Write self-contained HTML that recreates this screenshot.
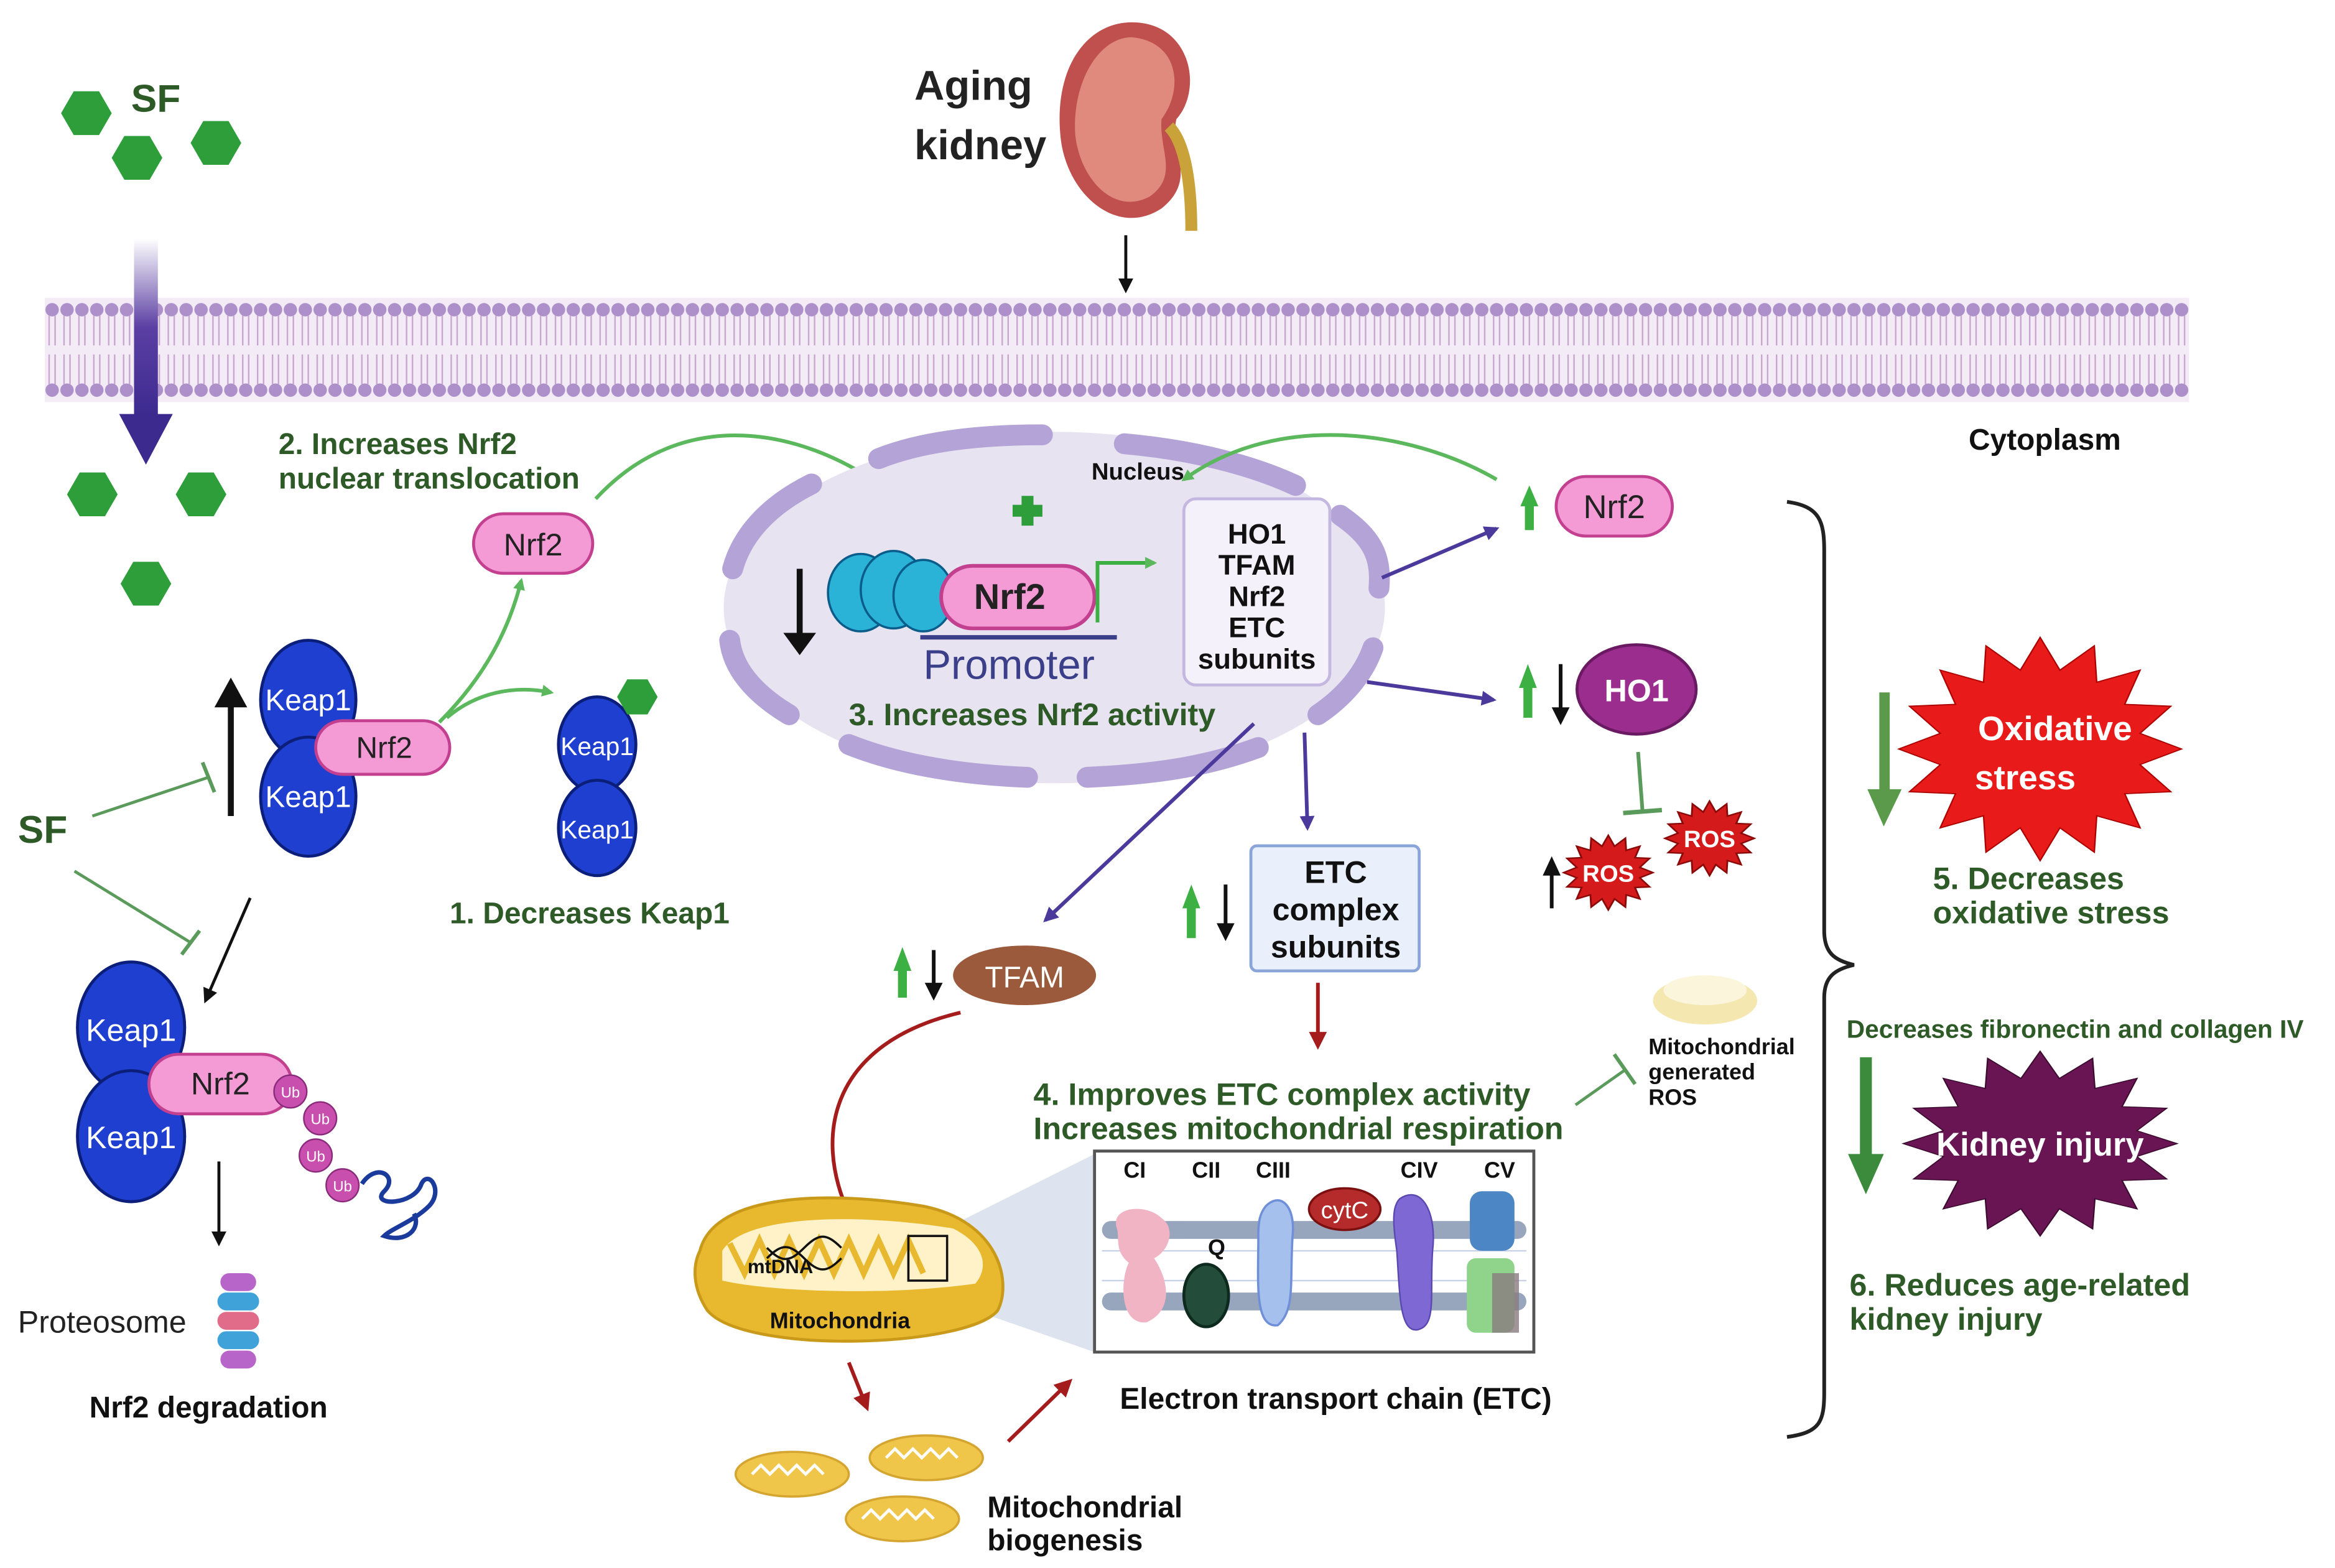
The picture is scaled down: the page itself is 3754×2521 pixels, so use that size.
<!DOCTYPE html>
<html><head><meta charset="utf-8"><style>
html,body{margin:0;padding:0;background:#fff}
svg{display:block}
text{font-family:"Liberation Sans",sans-serif}
</style></head><body>
<svg width="3754" height="2521" viewBox="0 0 1568 1053" xmlns="http://www.w3.org/2000/svg">
<defs>
<pattern id="mem" width="10" height="70" patternUnits="userSpaceOnUse" x="30" y="200">
<rect width="10" height="70" fill="#f3ecf6"/>
<path d="M3,12 L3,32 M7,12 L7,32 M3,38 L3,58 M7,38 L7,58" stroke="#c9a6cf" stroke-width="1"/>
<circle cx="5" cy="8" r="4.5" fill="#ad8fc9"/>
<circle cx="5" cy="62" r="4.5" fill="#ad8fc9"/>
</pattern>
<linearGradient id="parr" x1="0" y1="0" x2="0" y2="1"><stop offset="0" stop-color="#fff"/><stop offset="0.5" stop-color="#5b3fa3"/><stop offset="1" stop-color="#3c2a8f"/></linearGradient>
<polygon id="star" points="1,0 .706,.140 .924,.383 .598,.400 .707,.707 .400,.598 .383,.924 .140,.706 0,1 -.140,.706 -.383,.924 -.400,.598 -.707,.707 -.598,.400 -.924,.383 -.706,.140 -1,0 -.706,-.140 -.924,-.383 -.598,-.400 -.707,-.707 -.400,-.598 -.383,-.924 -.140,-.706 0,-1 .140,-.706 .383,-.924 .400,-.598 .707,-.707 .598,-.400 .924,-.383 .706,-.140"/>
<polygon id="hex" points="17,0 8.5,14.7 -8.5,14.7 -17,0 -8.5,-14.7 8.5,-14.7" fill="#2e9e3a"/>
<marker id="ag" markerWidth="8" markerHeight="8" refX="6" refY="4" orient="auto" markerUnits="userSpaceOnUse"><path d="M0,0 L8,4 L0,8 z" fill="#5cb85c"/></marker>
<marker id="ap" markerWidth="10" markerHeight="10" refX="8" refY="5" orient="auto" markerUnits="userSpaceOnUse"><path d="M0,0 L10,5 L0,10 z" fill="#4b3a9c"/></marker>
<marker id="ak" markerWidth="10" markerHeight="10" refX="8" refY="5" orient="auto" markerUnits="userSpaceOnUse"><path d="M0,0 L10,5 L0,10 z" fill="#111"/></marker>
<marker id="ar" markerWidth="12" markerHeight="12" refX="9" refY="6" orient="auto" markerUnits="userSpaceOnUse"><path d="M0,0 L12,6 L0,12 z" fill="#a51c1c"/></marker>
</defs>
<rect width="1568" height="1053" fill="#fff"/>

<!-- membrane -->
<rect x="30" y="200" width="1440" height="70" fill="url(#mem)"/>

<!-- SF top -->
<use href="#hex" transform="translate(58,76)"/>
<use href="#hex" transform="translate(92,106)"/>
<use href="#hex" transform="translate(145,96)"/>
<text x="88" y="75" font-size="26" font-weight="bold" fill="#2d5a27">SF</text>
<rect x="90" y="160" width="16" height="120" fill="url(#parr)"/>
<polygon points="80,278 116,278 98,312" fill="#3c2a8f"/>
<use href="#hex" transform="translate(62,332)"/>
<use href="#hex" transform="translate(135,332)"/>
<use href="#hex" transform="translate(98,392)"/>

<!-- kidney -->
<text x="614" y="67" font-size="28" font-weight="bold" fill="#222">Aging</text>
<text x="614" y="107" font-size="28" font-weight="bold" fill="#222">kidney</text>
<path d="M760,15 C800,15 808,60 790,80 C785,100 805,120 780,140 C750,160 715,130 712,90 C708,45 730,15 760,15 z" fill="#c0504d"/>
<path d="M760,25 C792,28 795,60 780,80 C778,100 792,118 772,132 C748,145 725,120 722,90 C720,55 738,25 760,25 z" fill="#e08a7e"/>
<path d="M785,85 C795,95 800,120 800,155" stroke="#c9a23a" stroke-width="8" fill="none"/>
<line x1="756" y1="158" x2="756" y2="195" stroke="#111" stroke-width="2" marker-end="url(#ak)"/>

<text x="1322" y="302" font-size="20" font-weight="bold" fill="#111">Cytoplasm</text>

<!-- step 2 -->
<text x="187" y="305" font-size="20" font-weight="bold" fill="#2d5a27">2. Increases Nrf2</text>
<text x="187" y="328" font-size="20" font-weight="bold" fill="#2d5a27">nuclear translocation</text>
<path d="M400,335 C460,270 540,290 590,325" stroke="#5cb85c" stroke-width="2.5" fill="none" marker-end="url(#ag)"/>
<rect x="318" y="345" width="80" height="40" rx="20" fill="#f49bd6" stroke="#c2408f" stroke-width="2"/>
<text x="358" y="373" font-size="21" text-anchor="middle" fill="#222">Nrf2</text>

<!-- Keap1 complex upper -->
<line x1="155" y1="548" x2="155" y2="470" stroke="#111" stroke-width="4"/>
<polygon points="144,475 166,475 155,455" fill="#111"/>
<ellipse cx="207" cy="470" rx="32" ry="40" fill="#1e3fcf" stroke="#0b1f7a" stroke-width="2"/>
<ellipse cx="207" cy="535" rx="32" ry="40" fill="#1e3fcf" stroke="#0b1f7a" stroke-width="2"/>
<text x="207" y="477" font-size="20" text-anchor="middle" fill="#fff">Keap1</text>
<text x="207" y="542" font-size="20" text-anchor="middle" fill="#fff">Keap1</text>
<rect x="212" y="484" width="90" height="36" rx="18" fill="#f49bd6" stroke="#c2408f" stroke-width="2"/>
<text x="258" y="509" font-size="20" text-anchor="middle" fill="#222">Nrf2</text>
<path d="M295,485 C320,460 340,430 350,390" stroke="#5cb85c" stroke-width="2.5" fill="none" marker-end="url(#ag)"/>
<path d="M300,482 C320,465 345,460 370,465" stroke="#5cb85c" stroke-width="2.5" fill="none" marker-end="url(#ag)"/>
<ellipse cx="401" cy="500" rx="26" ry="32" fill="#1e3fcf" stroke="#0b1f7a" stroke-width="2"/>
<ellipse cx="401" cy="556" rx="26" ry="32" fill="#1e3fcf" stroke="#0b1f7a" stroke-width="2"/>
<text x="401" y="507" font-size="17" text-anchor="middle" fill="#fff">Keap1</text>
<text x="401" y="563" font-size="17" text-anchor="middle" fill="#fff">Keap1</text>
<use href="#hex" transform="translate(428,468) scale(0.8)"/>
<text x="302" y="620" font-size="20" font-weight="bold" fill="#2d5a27">1. Decreases  Keap1</text>

<!-- SF left -->
<text x="12" y="566" font-size="26" font-weight="bold" fill="#2d5a27">SF</text>
<line x1="62" y1="548" x2="140" y2="522" stroke="#5a9a5a" stroke-width="2"/>
<line x1="136" y1="512" x2="144" y2="532" stroke="#5a9a5a" stroke-width="2.5"/>
<line x1="50" y1="585" x2="128" y2="633" stroke="#5a9a5a" stroke-width="2"/>
<line x1="122" y1="641" x2="134" y2="625" stroke="#5a9a5a" stroke-width="2.5"/>
<line x1="168" y1="603" x2="138" y2="672" stroke="#111" stroke-width="2" marker-end="url(#ak)"/>

<!-- lower keap -->
<ellipse cx="88" cy="690" rx="36" ry="44" fill="#1e3fcf" stroke="#0b1f7a" stroke-width="2"/>
<ellipse cx="88" cy="763" rx="36" ry="44" fill="#1e3fcf" stroke="#0b1f7a" stroke-width="2"/>
<text x="88" y="699" font-size="21" text-anchor="middle" fill="#fff">Keap1</text>
<text x="88" y="771" font-size="21" text-anchor="middle" fill="#fff">Keap1</text>
<rect x="100" y="708" width="96" height="40" rx="20" fill="#f49bd6" stroke="#c2408f" stroke-width="2"/>
<text x="148" y="735" font-size="21" text-anchor="middle" fill="#222">Nrf2</text>
<g fill="#c94fae" stroke="#8a2a7a" stroke-width="1">
<circle cx="195" cy="733" r="11"/><circle cx="215" cy="751" r="11"/><circle cx="212" cy="776" r="11"/><circle cx="230" cy="796" r="11"/></g>
<g font-size="10" fill="#fff" text-anchor="middle"><text x="195" y="737">Ub</text><text x="215" y="755">Ub</text><text x="212" y="780">Ub</text><text x="230" y="800">Ub</text></g>
<path d="M243,795 c10,-15 25,-5 15,5 c-10,10 20,10 25,-5 c5,-10 15,5 5,15 c-10,10 -25,15 -30,20 c15,5 25,-5 20,-15" stroke="#1a3a9c" stroke-width="3" fill="none"/>
<line x1="147" y1="780" x2="147" y2="835" stroke="#111" stroke-width="2" marker-end="url(#ak)"/>
<text x="12" y="895" font-size="21" fill="#222">Proteosome</text>
<g><rect x="148" y="855" width="24" height="12" rx="6" fill="#b865c9"/><rect x="146" y="868" width="28" height="12" rx="6" fill="#3fa3d9"/><rect x="146" y="881" width="28" height="12" rx="6" fill="#e06c8a"/><rect x="146" y="894" width="28" height="12" rx="6" fill="#3fa3d9"/><rect x="148" y="907" width="24" height="12" rx="6" fill="#b865c9"/></g>
<text x="60" y="952" font-size="20" font-weight="bold" fill="#111">Nrf2 degradation</text>

<!-- nucleus -->
<ellipse cx="708" cy="408" rx="222" ry="118" fill="#e7e3f0"/>
<g stroke="#b3a3d7" stroke-width="14" fill="none" stroke-linecap="round">
<path d="M590,308 C620,296 660,292 700,292"/>
<path d="M755,298 C800,302 840,312 870,326"/>
<path d="M900,346 C920,360 928,372 926,395"/>
<path d="M922,435 C915,455 900,470 885,480"/>
<path d="M845,502 C810,515 775,520 730,522"/>
<path d="M690,522 C640,520 600,512 570,500"/>
<path d="M530,480 C505,465 492,448 490,430"/>
<path d="M492,382 C498,360 515,340 545,325"/>
</g>
<text x="733" y="322" font-size="16" font-weight="bold" fill="#111">Nucleus</text>
<line x1="537" y1="382" x2="537" y2="430" stroke="#111" stroke-width="4"/>
<polygon points="526,425 548,425 537,440" fill="#111"/>
<g stroke="#0a5c8a" stroke-width="1.5">
<ellipse cx="578" cy="398" rx="22" ry="26" fill="#2ab3d6"/><ellipse cx="600" cy="396" rx="22" ry="26" fill="#2ab3d6"/><ellipse cx="620" cy="400" rx="20" ry="24" fill="#2ab3d6"/></g>
<rect x="632" y="380" width="103" height="42" rx="21" fill="#f49bd6" stroke="#c2408f" stroke-width="2.5"/>
<text x="678" y="409" font-size="24" font-weight="bold" fill="#222" text-anchor="middle">Nrf2</text>
<line x1="618" y1="428" x2="750" y2="428" stroke="#3b3f8a" stroke-width="3"/>
<path d="M737,418 L737,378 L775,378" stroke="#3cb043" stroke-width="2.5" fill="none" marker-end="url(#ag)"/>
<text x="620" y="456" font-size="28" fill="#3b3f8a">Promoter</text>
<path d="M680,343 h20 M690,333 v20" stroke="#2e9e3a" stroke-width="8"/>
<text x="570" y="487" font-size="21" font-weight="bold" fill="#2d5a27">3. Increases Nrf2 activity</text>
<rect x="795" y="335" width="98" height="125" rx="8" fill="#f4f1fa" stroke="#c4b8e0" stroke-width="2"/>
<g font-size="19" font-weight="bold" fill="#111" text-anchor="middle">
<text x="844" y="365">HO1</text><text x="844" y="386">TFAM</text><text x="844" y="407">Nrf2</text><text x="844" y="428">ETC</text><text x="844" y="449">subunits</text></g>
<path d="M1005,322 C950,290 860,275 795,322" stroke="#5cb85c" stroke-width="2.5" fill="none" marker-end="url(#ag)"/>

<!-- right purple arrows -->
<line x1="928" y1="388" x2="1005" y2="355" stroke="#4b3a9c" stroke-width="2.5" marker-end="url(#ap)"/>
<line x1="918" y1="458" x2="1003" y2="470" stroke="#4b3a9c" stroke-width="2.5" marker-end="url(#ap)"/>
<line x1="876" y1="492" x2="878" y2="556" stroke="#4b3a9c" stroke-width="2.5" marker-end="url(#ap)"/>
<line x1="842" y1="486" x2="702" y2="618" stroke="#4b3a9c" stroke-width="2.5" marker-end="url(#ap)"/>

<!-- Nrf2 right -->
<polygon points="1021,340 1033,340 1027,326" fill="#3cb043"/><rect x="1024" y="338" width="6" height="18" fill="#3cb043"/>
<rect x="1045" y="320" width="78" height="40" rx="20" fill="#f49bd6" stroke="#c2408f" stroke-width="2"/>
<text x="1084" y="348" font-size="22" text-anchor="middle" fill="#222">Nrf2</text>

<!-- HO1 -->
<polygon points="1020,462 1032,462 1026,446" fill="#3cb043"/><rect x="1023" y="460" width="6" height="22" fill="#3cb043"/>
<line x1="1048" y1="446" x2="1048" y2="478" stroke="#111" stroke-width="2.5"/><polygon points="1042,475 1054,475 1048,487" fill="#111"/>
<ellipse cx="1099" cy="463" rx="40" ry="30" fill="#9b2d8f" stroke="#6a1a62" stroke-width="2"/>
<text x="1099" y="471" font-size="21" font-weight="bold" text-anchor="middle" fill="#fff">HO1</text>
<line x1="1100" y1="505" x2="1103" y2="545" stroke="#5a9a5a" stroke-width="2.5"/>
<line x1="1090" y1="546" x2="1116" y2="544" stroke="#5a9a5a" stroke-width="3"/>
<use href="#star" transform="translate(1148,563) scale(30,25)" fill="#d41a1a" stroke="#8a0a0a" stroke-width="0.04"/>
<text x="1148" y="569" font-size="16" font-weight="bold" text-anchor="middle" fill="#fff">ROS</text>
<use href="#star" transform="translate(1080,586) scale(30,25)" fill="#d41a1a" stroke="#8a0a0a" stroke-width="0.04"/>
<text x="1080" y="592" font-size="16" font-weight="bold" text-anchor="middle" fill="#fff">ROS</text>
<line x1="1042" y1="610" x2="1042" y2="585" stroke="#111" stroke-width="2.5"/><polygon points="1036,588 1048,588 1042,575" fill="#111"/>

<!-- ETC box -->
<polygon points="794,610 806,610 800,594" fill="#3cb043"/><rect x="797" y="608" width="6" height="22" fill="#3cb043"/>
<line x1="823" y1="594" x2="823" y2="622" stroke="#111" stroke-width="2.5"/><polygon points="817,620 829,620 823,632" fill="#111"/>
<rect x="840" y="568" width="113" height="84" rx="4" fill="#eaf0fb" stroke="#8aa6d8" stroke-width="2"/>
<g font-size="21" font-weight="bold" fill="#111" text-anchor="middle"><text x="897" y="593">ETC</text><text x="897" y="618">complex</text><text x="897" y="643">subunits</text></g>
<line x1="885" y1="660" x2="885" y2="702" stroke="#a51c1c" stroke-width="2.5" marker-end="url(#ar)"/>

<!-- TFAM -->
<polygon points="600,652 612,652 606,636" fill="#3cb043"/><rect x="603" y="650" width="6" height="20" fill="#3cb043"/>
<line x1="627" y1="638" x2="627" y2="662" stroke="#111" stroke-width="2.5"/><polygon points="621,660 633,660 627,672" fill="#111"/>
<ellipse cx="688" cy="655" rx="48" ry="20" fill="#9c5a3c"/>
<text x="688" y="663" font-size="20" text-anchor="middle" fill="#fff">TFAM</text>
<path d="M645,680 C560,700 545,760 570,815" stroke="#a51c1c" stroke-width="2.5" fill="none" marker-end="url(#ar)"/>

<!-- step 4 -->
<text x="694" y="742" font-size="21" font-weight="bold" fill="#2d5a27">4. Improves ETC complex activity</text>
<text x="694" y="765" font-size="21" font-weight="bold" fill="#2d5a27">Increases mitochondrial respiration</text>
<line x1="1058" y1="742" x2="1092" y2="718" stroke="#5a9a5a" stroke-width="2"/>
<line x1="1084" y1="708" x2="1098" y2="728" stroke="#5a9a5a" stroke-width="2.5"/>
<ellipse cx="1145" cy="672" rx="35" ry="16" fill="#f4e7b0"/>
<ellipse cx="1145" cy="665" rx="28" ry="10" fill="#fbf5dc"/>
<g font-size="15" font-weight="bold" fill="#111"><text x="1107" y="708">Mitochondrial</text><text x="1107" y="725">generated</text><text x="1107" y="742">ROS</text></g>

<!-- mitochondria -->
<polygon points="625,830 735,775 735,908 640,875" fill="#d4dceb" opacity="0.8"/>
<path d="M470,840 C480,800 560,800 620,810 C670,820 680,860 670,880 C650,905 500,910 475,880 C465,865 465,850 470,840 z" fill="#e8b92e" stroke="#c99a1a" stroke-width="2"/>
<path d="M485,840 C500,815 580,815 640,825 C660,835 665,850 655,862 C600,870 520,868 485,860 z" fill="#fff2c8"/>
<path d="M490,835 l10,20 l10,-22 l10,22 l10,-22 l10,22 l10,-22 l10,22 l10,-22 l10,22 l10,-22 l10,22 l10,-22 l10,22" stroke="#e8b92e" stroke-width="4" fill="none"/>
<path d="M515,845 c10,-10 15,-10 25,0 s15,10 25,0 M515,838 c10,10 15,10 25,0 s15,-10 25,0" stroke="#111" stroke-width="1.5" fill="none"/>
<text x="502" y="855" font-size="13" font-weight="bold" fill="#111">mtDNA</text>
<rect x="610" y="830" width="26" height="30" fill="none" stroke="#111" stroke-width="1.5"/>
<text x="517" y="892" font-size="15" font-weight="bold" fill="#111">Mitochondria</text>

<!-- ETC panel -->
<rect x="735" y="773" width="295" height="135" fill="#fff" stroke="#555" stroke-width="2"/>
<g fill="#98a6bd"><rect x="740" y="820" width="285" height="12" rx="6"/><rect x="740" y="868" width="285" height="12" rx="6"/></g>
<g stroke="#c8d2e6" stroke-width="1"><line x1="740" y1="840" x2="1025" y2="840"/><line x1="740" y1="860" x2="1025" y2="860"/></g>
<g font-size="15" font-weight="bold" fill="#111" text-anchor="middle"><text x="762" y="791">CI</text><text x="810" y="791">CII</text><text x="855" y="791">CIII</text><text x="953" y="791">CIV</text><text x="1007" y="791">CV</text><text x="817" y="843">Q</text></g>
<path d="M750,825 C745,810 770,808 780,818 C790,825 785,840 775,845 C785,860 788,880 770,888 C752,890 752,860 758,848 C748,840 752,830 750,825 z" fill="#f0b4c4"/>
<ellipse cx="810" cy="870" rx="15" ry="21" fill="#234d3a" stroke="#0d2a1e" stroke-width="2"/>
<path d="M850,810 C860,800 870,810 868,830 C866,860 870,880 858,890 C842,892 845,860 845,830 C845,820 846,815 850,810 z" fill="#a6c0ee" stroke="#6f8fd8" stroke-width="1.5"/>
<ellipse cx="903" cy="812" rx="24" ry="14" fill="#b52a2a" stroke="#7a1010" stroke-width="1.5"/>
<text x="903" y="818" font-size="16" text-anchor="middle" fill="#fff">cytC</text>
<path d="M940,805 C955,795 965,815 962,840 C960,870 965,890 952,893 C940,895 940,870 938,840 C935,820 935,810 940,805 z" fill="#7e68d4" stroke="#5a48b0" stroke-width="1"/>
<rect x="987" y="800" width="30" height="40" rx="8" fill="#4d86c4"/>
<rect x="985" y="845" width="32" height="50" rx="6" fill="#8fd48a"/>
<rect x="1002" y="855" width="18" height="40" fill="#8a7a80" opacity="0.8"/>
<text x="752" y="946" font-size="20" font-weight="bold" fill="#111">Electron transport chain (ETC)</text>

<!-- biogenesis -->
<line x1="570" y1="915" x2="582" y2="945" stroke="#a51c1c" stroke-width="2.5" marker-end="url(#ar)"/>
<line x1="677" y1="968" x2="718" y2="928" stroke="#a51c1c" stroke-width="2.5" marker-end="url(#ar)"/>
<g fill="#f0c64a" stroke="#d4a530" stroke-width="1.5">
<ellipse cx="532" cy="990" rx="38" ry="15"/><ellipse cx="622" cy="979" rx="38" ry="15"/><ellipse cx="606" cy="1020" rx="38" ry="15"/></g>
<g stroke="#fff" stroke-width="2" fill="none"><path d="M505,990 l6,-6 l6,6 l6,-6 l6,6 l6,-6 l6,6 l6,-6 l6,6"/><path d="M595,979 l6,-6 l6,6 l6,-6 l6,6 l6,-6 l6,6 l6,-6 l6,6"/><path d="M579,1020 l6,-6 l6,6 l6,-6 l6,6 l6,-6 l6,6 l6,-6 l6,6"/></g>
<text x="663" y="1019" font-size="20" font-weight="bold" fill="#111">Mitochondrial</text>
<text x="663" y="1041" font-size="20" font-weight="bold" fill="#111">biogenesis</text>

<!-- bracket -->
<path d="M1200,337 C1222,340 1225,350 1225,370 L1225,625 C1225,640 1232,645 1245,648 C1232,651 1225,656 1225,670 L1225,935 C1225,955 1222,962 1200,965" stroke="#222" stroke-width="2.5" fill="none"/>

<!-- oxidative stress -->
<rect x="1262" y="465" width="7" height="70" fill="#5a9a4a"/><polygon points="1254,530 1277,530 1265,555" fill="#5a9a4a"/>
<use href="#star" transform="translate(1370,503) scale(95,75)" fill="#e81a1a" stroke="#a00" stroke-width="0.01"/>
<text x="1380" y="497" font-size="23" font-weight="bold" text-anchor="middle" fill="#fff">Oxidative</text>
<text x="1360" y="530" font-size="23" font-weight="bold" text-anchor="middle" fill="#fff">stress</text>
<text x="1298" y="597" font-size="21" font-weight="bold" fill="#2d5a27">5. Decreases</text>
<text x="1298" y="620" font-size="21" font-weight="bold" fill="#2d5a27">oxidative stress</text>

<text x="1240" y="697" font-size="17" font-weight="bold" fill="#2d5a27">Decreases fibronectin and collagen IV</text>
<rect x="1249" y="710" width="8" height="70" fill="#3c8a3c"/><polygon points="1241,775 1265,775 1253,802" fill="#3c8a3c"/>
<use href="#star" transform="translate(1370,768) scale(92,62)" fill="#6a1553" stroke="#3a0a2e" stroke-width="0.01"/>
<text x="1370" y="776" font-size="22" font-weight="bold" text-anchor="middle" fill="#fff">Kidney injury</text>
<text x="1242" y="870" font-size="21" font-weight="bold" fill="#2d5a27">6. Reduces age-related</text>
<text x="1242" y="893" font-size="21" font-weight="bold" fill="#2d5a27">kidney injury</text>
</svg>
</body></html>
